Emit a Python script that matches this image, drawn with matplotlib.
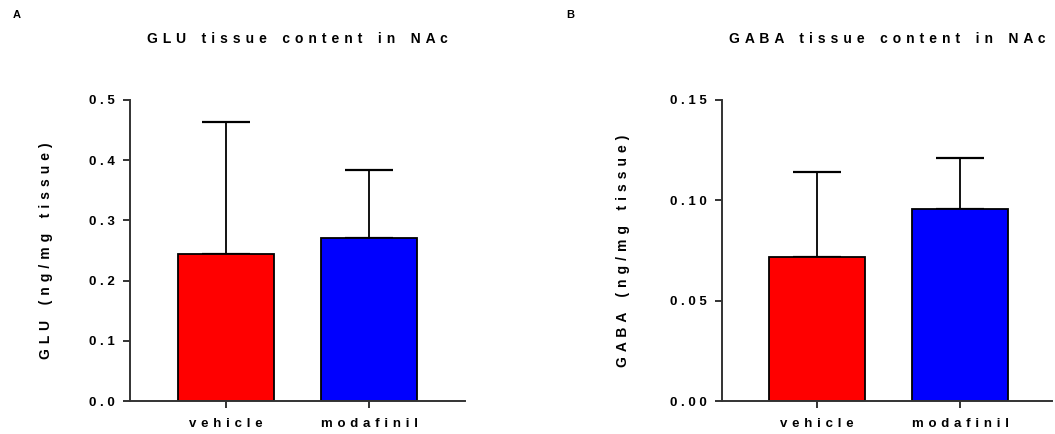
import matplotlib
matplotlib.use("Agg")
import matplotlib.pyplot as plt

plt.rcParams['font.family'] = ['Liberation Sans', 'DejaVu Sans']
plt.rcParams['font.weight'] = 'bold'

groups = ["vehicle", "modafinil"]
colors = ["#ff0000", "#0000ff"]

glu_mean = [0.244, 0.271]
glu_err = [0.219, 0.113]
glu_ticks = [0.0, 0.1, 0.2, 0.3, 0.4, 0.5]
glu_ticklabels = ["0.0", "0.1", "0.2", "0.3", "0.4", "0.5"]

gaba_mean = [0.0718, 0.0957]
gaba_err = [0.0422, 0.0253]
gaba_ticks = [0.0, 0.05, 0.10, 0.15]
gaba_ticklabels = ["0.00", "0.05", "0.10", "0.15"]


def spaced(s, gap=" ", wgap="   "):
    # GraphPad-like letter spacing
    return wgap.join(gap.join(w) for w in s.split(" "))


def panel(ax, means, errs, ticks, ticklabels, ylabel, title, xlim, ypad):
    x = range(len(groups))
    ax.bar(x, means, width=0.67, color=colors, edgecolor="black", linewidth=1.3, zorder=2)
    ax.errorbar(x, means, yerr=[[0] * len(errs), errs], fmt="none", ecolor="black",
                elinewidth=1.3, capsize=17, capthick=1.6, zorder=1)
    ax.set_xlim(*xlim)
    ax.set_ylim(ticks[0], ticks[-1])
    ax.set_yticks(ticks)
    ax.set_yticklabels([spaced(t) for t in ticklabels])
    ax.set_xticks(list(x))
    ax.set_xticklabels([spaced(g, " \u200a") for g in groups])
    for s in ["top", "right"]:
        ax.spines[s].set_visible(False)
    for s in ["left", "bottom"]:
        ax.spines[s].set_linewidth(1.4)
        ax.spines[s].set_color("#333333")
    ax.spines["left"].set_zorder(3)
    ax.tick_params(axis="y", length=5, width=1.4, color="#333333", labelsize=9.5, pad=6)
    ax.tick_params(axis="x", length=5, width=1.4, color="#333333", labelsize=9.5, pad=7)
    for lab in ax.get_xticklabels() + ax.get_yticklabels():
        lab.set_fontweight("bold")
    ax.set_ylabel(spaced(ylabel, " \u200a", "    "), fontsize=10, fontweight="bold",
                  labelpad=ypad)
    ax.set_title(spaced(title, " \u200a", "    "), fontsize=10, fontweight="bold", pad=41)


fig = plt.figure(figsize=(10.55, 4.34), dpi=100)
ax1 = fig.add_axes([0.1232, 0.076, 0.3176, 0.6936])
ax2 = fig.add_axes([0.6844, 0.076, 0.3128, 0.6936])

panel(ax1, glu_mean, glu_err, glu_ticks, glu_ticklabels,
      "GLU (ng/mg tissue)", "GLU tissue content in NAc", (-0.671, 1.671), 26)
panel(ax2, gaba_mean, gaba_err, gaba_ticks, gaba_ticklabels,
      "GABA (ng/mg tissue)", "GABA tissue content in NAc", (-0.664, 1.64), 29)

fig.text(0.012, 0.965, "A", fontsize=8, fontweight="bold", va="center")
fig.text(0.537, 0.965, "B", fontsize=8, fontweight="bold", va="center")

fig.savefig("out.png", dpi=100)
